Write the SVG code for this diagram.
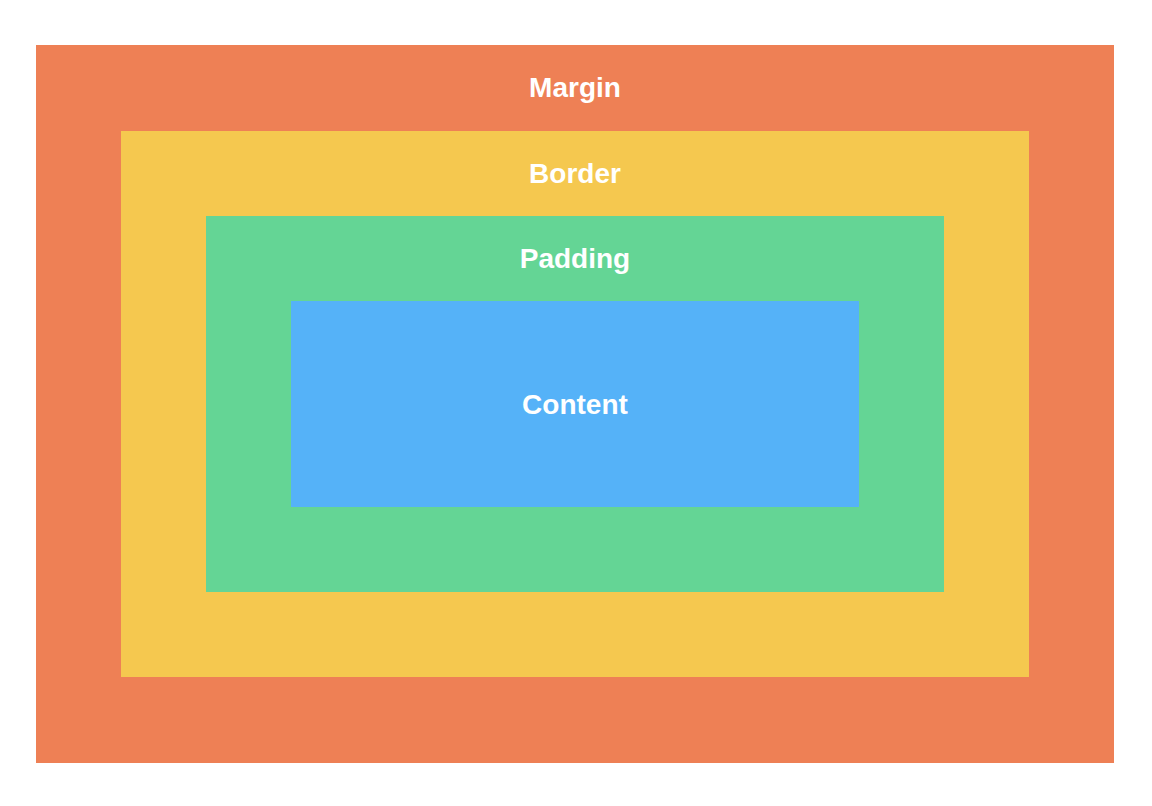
<svg xmlns="http://www.w3.org/2000/svg" width="1152" height="806" viewBox="0 0 1152 806">
<style>text{font-family:"Liberation Sans",Arial,sans-serif;font-weight:bold;font-size:28px;fill:#fff;text-anchor:middle}</style>
<rect width="1152" height="806" fill="#fff"/>
<g id="margin"><rect x="36" y="45" width="1078" height="718" fill="#ee8055"/><text x="575" y="97">Margin</text></g>
<g id="border"><rect x="121" y="131" width="908" height="546" fill="#f5c84f"/><text x="575" y="183">Border</text></g>
<g id="padding"><rect x="206" y="216" width="738" height="376" fill="#64d595"/><text x="575" y="268">Padding</text></g>
<g id="content"><rect x="291" y="301" width="568" height="206" fill="#55b2f8"/><text x="575" y="414">Content</text></g>
<g id="connectors"/>
</svg>
